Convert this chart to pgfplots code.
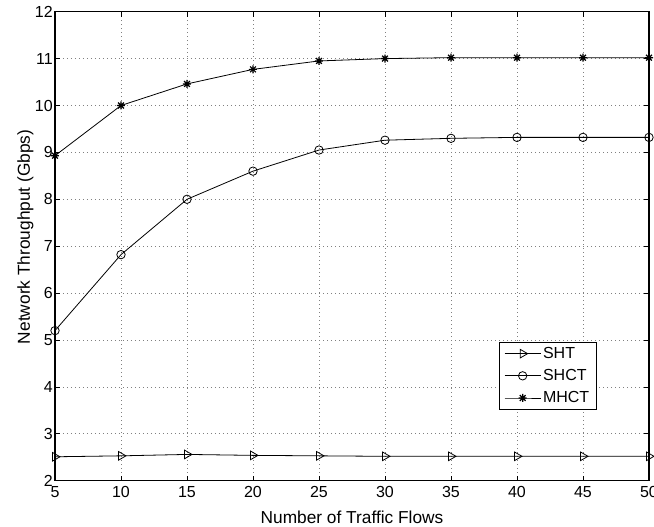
\documentclass[border=0pt]{standalone}
\usepackage{fontspec}
\setmainfont{Liberation Sans}
\usepackage{pgfplots}
\pgfplotsset{compat=1.18}

% MATLAB-style '*' marker: plus and cross together
\pgfdeclareplotmark{mstar}{%
  \pgfpathmoveto{\pgfqpoint{-\pgfplotmarksize}{0pt}}\pgfpathlineto{\pgfqpoint{\pgfplotmarksize}{0pt}}%
  \pgfpathmoveto{\pgfqpoint{0pt}{-\pgfplotmarksize}}\pgfpathlineto{\pgfqpoint{0pt}{\pgfplotmarksize}}%
  \pgfpathmoveto{\pgfqpoint{-0.72\pgfplotmarksize}{-0.72\pgfplotmarksize}}\pgfpathlineto{\pgfqpoint{0.72\pgfplotmarksize}{0.72\pgfplotmarksize}}%
  \pgfpathmoveto{\pgfqpoint{-0.72\pgfplotmarksize}{0.72\pgfplotmarksize}}\pgfpathlineto{\pgfqpoint{0.72\pgfplotmarksize}{-0.72\pgfplotmarksize}}%
  \pgfusepathqstroke}

\begin{document}
\begin{tikzpicture}
\path[use as bounding box] (-55pt,-46.3pt) rectangle (599pt,480.7pt);
\begin{axis}[
  at={(0,0)}, anchor=south west,
  scale only axis, width=594pt, height=469pt,
  xmin=5, xmax=50, ymin=2, ymax=12,
  xtick={5,10,...,50}, ytick={2,3,...,12},
  tick pos=both, tick align=inside, major tick length=5pt,
  tick style={black, line width=0.6pt},
  axis line style={black, line width=1.1pt},
  grid=major, grid style={black!50, line width=0.6pt, dash pattern=on 0.8pt off 3.2pt},
  ticklabel style={font=\fontsize{16}{19}\selectfont},
  /pgf/number format/assume math mode=true,
  xticklabel style={yshift=-2.3pt},
  yticklabel style={xshift=1.3pt},
  xlabel={Number of Traffic Flows},
  ylabel={Network Throughput (Gbps)},
  every axis x label/.style={at={(axis description cs:0.5,0)}, anchor=base, yshift=-42.6pt,
    font=\fontsize{17.3}{20}\selectfont},
  every axis y label/.style={at={(axis description cs:-0.0497,0.52)}, rotate=90, anchor=center,
    font=\fontsize{17.3}{20}\selectfont},
  legend cell align=left,
  legend style={at={(0.747,0.151)}, anchor=south west, draw=black, line width=1.1pt,
    font=\fontsize{16}{19}\selectfont, inner xsep=5pt, inner ysep=3pt, row sep=5.5pt},
  legend image code/.code={\draw[#1, line width=0.8pt, mark repeat=2, mark phase=2]
    plot coordinates {(0pt,0pt) (18pt,0pt) (36pt,0pt)};},
]
\addplot[black, line width=0.8pt, mark=triangle, mark size=5pt, mark options={rotate=-90, solid, fill=white}]
  coordinates {(5,2.51) (10,2.53) (15,2.56) (20,2.54) (25,2.53) (30,2.52) (35,2.52) (40,2.52) (45,2.52) (50,2.52)};
\addlegendentry{SHT}
\addplot[black, line width=0.8pt, mark=o, mark size=4.2pt, mark options={solid, fill=white}]
  coordinates {(5,5.20) (10,6.82) (15,8.00) (20,8.60) (25,9.05) (30,9.26) (35,9.30) (40,9.32) (45,9.32) (50,9.32)};
\addlegendentry{SHCT}
\addplot[black, line width=0.8pt, mark=mstar, mark size=4pt, mark options={solid, line width=1.2pt}]
  coordinates {(5,8.93) (10,10.00) (15,10.46) (20,10.77) (25,10.95) (30,11.00) (35,11.02) (40,11.02) (45,11.02) (50,11.02)};
\addlegendentry{MHCT}
\end{axis}
\end{tikzpicture}
\end{document}
